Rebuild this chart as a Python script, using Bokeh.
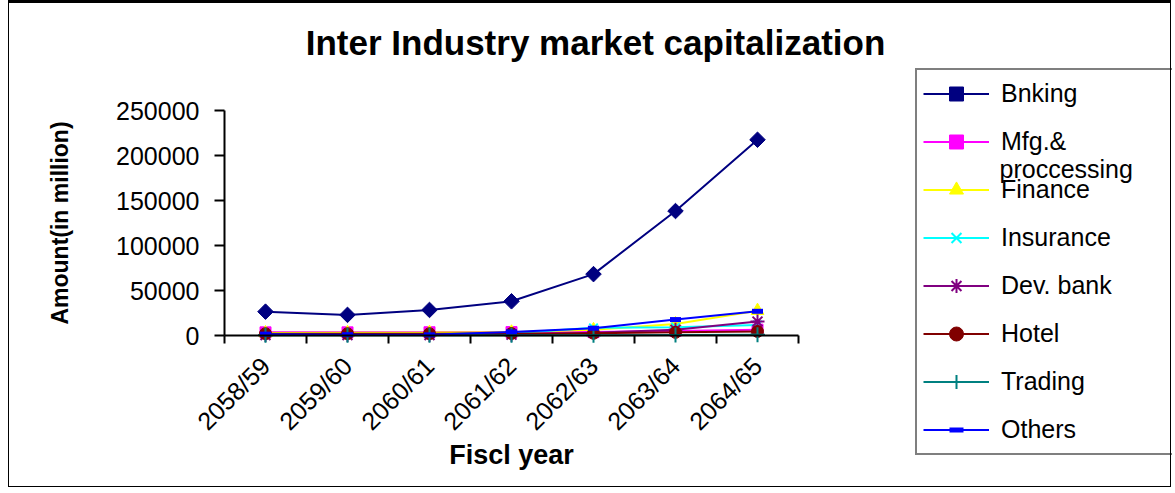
from bokeh.plotting import figure
from bokeh.models import (Range1d, FixedTicker, Legend, LegendItem, Label)
from bokeh.embed import file_html
from bokeh.resources import INLINE

years = ["2058/59", "2059/60", "2060/61", "2061/62", "2062/63", "2063/64", "2064/65"]
bnking = [26500, 22900, 28400, 38000, 68200, 138300, 217500]
mfg = [3500, 3500, 3600, 3800, 3800, 5000, 6500]
finance = [2800, 3000, 3200, 3600, 6300, 12900, 27600]
insurance = [1500, 1500, 1500, 2500, 8500, 9200, 11800]
dev_bank = [500, 500, 500, 900, 3000, 6300, 15500]
hotel = [2000, 2000, 2000, 2200, 2500, 3500, 4500]
trading = [200, 200, 200, 300, 400, 600, 800]
others = [1500, 900, 700, 4000, 8100, 17700, 26900]
y_ticks = [0, 50000, 100000, 150000, 200000, 250000]

series = [
    ("Bnking", bnking, "#000080", "square", 11, 0.785),
    ("Mfg.&", mfg, "#FF00FF", "square", 11, 0),
    ("Finance", finance, "#FFFF00", "triangle", 13, 0),
    ("Insurance", insurance, "#00FFFF", "x", 12, 0),
    ("Dev. bank", dev_bank, "#800080", "asterisk", 14, 0),
    ("Hotel", hotel, "#800000", "circle", 12, 0),
    ("Trading", trading, "#008080", "cross", 15, 0),
    ("Others", others, "#0000FF", "dash", 11, 0),
]

FONT = "Liberation Sans"

# canvas geometry (pixels)
W, H = 1163, 487
AX_L, AX_R, AX_T, AX_B = 215, 789, 107, 332
n = len(years)
ymax = y_ticks[-1]
px_x = (AX_R - AX_L) / n
px_y = (AX_B - AX_T) / ymax
x_range = Range1d(-AX_L / px_x, n + (W - AX_R) / px_x)
y_range = Range1d(-(H - AX_B) / px_y, ymax + AX_T / px_y)

p = figure(width=W, height=H, output_backend="svg", toolbar_location=None,
           x_range=x_range, y_range=y_range, min_border=0)
p.outline_line_color = None
p.xgrid.visible = False
p.ygrid.visible = False
p.background_fill_color = "white"
p.border_fill_color = "white"

xs = [i + 0.5 for i in range(n)]
items = []
for name, vals, color, marker, size, ang in series:
    r = p.line(xs, vals, line_color=color, line_width=2)
    if marker == "dash":
        m = p.scatter(xs, vals, marker="dash", size=size, line_color=color, line_width=5)
    elif marker in ("x", "asterisk", "cross"):
        m = p.scatter(xs, vals, marker=marker, size=size, line_color=color, line_width=2)
    else:
        m = p.scatter(xs, vals, marker=marker, size=size, angle=ang,
                      fill_color=color, line_color=color)
    items.append(LegendItem(label=name, renderers=[r, m]))

# x axis
xa = p.xaxis[0]
xa.fixed_location = 0
xa.bounds = (0, n)
xa.ticker = FixedTicker(ticks=xs, minor_ticks=list(range(n + 1)))
xa.major_label_overrides = {x: y for x, y in zip(xs, years)}
xa.major_label_orientation = 0.7854
xa.major_tick_out = 0
xa.major_tick_in = 0
xa.minor_tick_out = 8
xa.minor_tick_in = 0
xa.minor_tick_line_color = "black"
xa.minor_tick_line_width = 2
xa.axis_line_width = 2
xa.axis_line_color = "black"
xa.major_label_text_font = FONT
xa.major_label_text_font_size = "25px"
xa.major_label_text_color = "black"
xa.major_label_standoff = 18
xa.axis_label = "Fiscl year"
xa.axis_label_text_font = FONT
xa.axis_label_text_font_style = "bold"
xa.axis_label_text_font_size = "27px"
xa.axis_label_text_color = "black"
xa.axis_label_standoff = -8

ya = p.yaxis[0]
ya.fixed_location = 0
ya.bounds = (0, ymax)
ya.ticker = FixedTicker(ticks=y_ticks)
ya.formatter.use_scientific = False
ya.major_tick_out = 10
ya.major_tick_in = 0
ya.major_tick_line_width = 2
ya.minor_tick_line_color = None
ya.axis_line_width = 2
ya.axis_line_color = "black"
ya.major_label_text_font = FONT
ya.major_label_text_font_size = "25px"
ya.major_label_text_color = "black"
ya.major_label_standoff = 15
ya.axis_label = "Amount(in million)"
ya.axis_label_text_font = FONT
ya.axis_label_text_font_style = "bold"
ya.axis_label_text_font_size = "23px"
ya.axis_label_text_color = "black"
ya.axis_label_standoff = 40

p.add_layout(Label(x=586, y=H - 39, x_units="screen", y_units="screen",
                   text="Inter Industry market capitalization", text_font=FONT,
                   text_font_style="bold", text_font_size="35px", text_color="black",
                   text_align="center", text_baseline="middle"))

legend = Legend(items=items, location=(906, H - 452), orientation="vertical",
                border_line_color="black", border_line_width=2,
                background_fill_color="white", background_fill_alpha=0,
                label_text_font=FONT, label_text_font_size="25px",
                label_text_color="black",
                glyph_width=66, glyph_height=35, label_height=35, label_width=165,
                label_standoff=12, spacing=13, padding=6, margin=0)
p.add_layout(legend, "center")

p.add_layout(Label(x=990, y=H - 165.5, x_units="screen", y_units="screen",
                   text="proccessing", text_font=FONT, text_font_size="25px",
                   text_color="black", text_baseline="middle", level="overlay"))

p.styles = {"border": "1px solid black", "border-top": "3px solid black",
            "margin-left": "8px"}

open("out.html", "w").write(file_html(p, INLINE))
